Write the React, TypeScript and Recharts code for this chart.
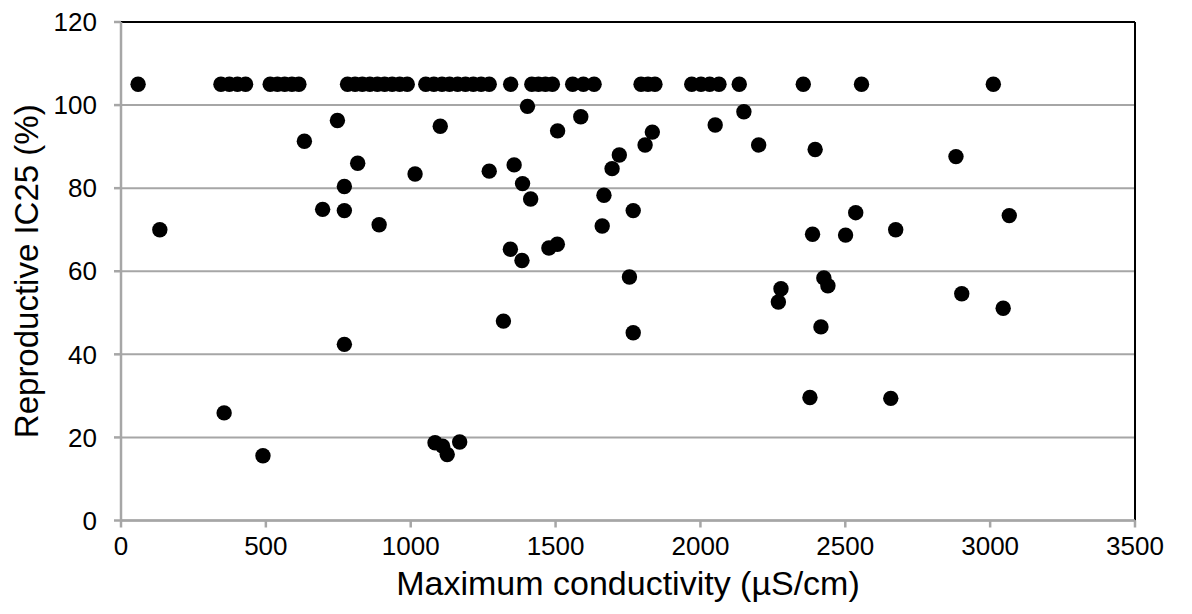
import React from 'react'
import {
  ScatterChart,
  Scatter,
  XAxis,
  YAxis,
  CartesianGrid,
  ReferenceLine,
  Label,
} from 'recharts'

// Maximum conductivity (µS/cm) for each site
const conductivity = [
  // sites with IC25 reported as >100 %
  59, 345, 374, 402, 430, 515, 540, 565, 590, 614, 782, 808, 833, 859, 885, 910, 936, 962,
  988, 1052, 1080, 1108, 1134, 1162, 1189, 1216, 1243, 1271, 1345, 1418, 1441, 1465, 1489,
  1559, 1596, 1633, 1795, 1819, 1843, 1970, 2002, 2032, 2064, 2134, 2355, 2556, 3011,
  // the rest
  747, 633, 817, 771, 696, 771, 134, 891, 771, 356, 490,
  1403, 1102, 1587, 1507, 1015, 1271, 1357, 1386, 1414, 1720, 1695, 1667, 1768, 1661, 1344,
  1384, 1477, 1506, 1755, 1320, 1768,
  1809, 1834, 2051, 2150, 2201, 2396, 2387, 2501, 2536, 2674, 2278, 2269, 2426, 2440, 2416,
  2882, 3066, 2902, 3045,
  1084, 1110, 1126, 1169,
  2378, 2657,
]

// Reproductive IC25 (%)
const ic25 = [
  105, 105, 105, 105, 105, 105, 105, 105, 105, 105, 105, 105, 105, 105, 105, 105, 105, 105,
  105, 105, 105, 105, 105, 105, 105, 105, 105, 105, 105, 105, 105, 105, 105,
  105, 105, 105, 105, 105, 105, 105, 105, 105, 105, 105, 105, 105, 105,
  96.3, 91.3, 86.0, 80.4, 74.9, 74.6, 70.0, 71.2, 42.4, 25.9, 15.6,
  99.7, 94.9, 97.2, 93.8, 83.4, 84.1, 85.6, 81.1, 77.4, 88.0, 84.7, 78.3, 74.6, 70.9, 65.3,
  62.6, 65.6, 66.5, 58.6, 48.0, 45.2,
  90.4, 93.5, 95.2, 98.4, 90.4, 89.3, 68.9, 68.7, 74.1, 70.0, 55.8, 52.6, 58.4, 56.5, 46.6,
  87.6, 73.4, 54.6, 51.1,
  18.7, 17.9, 15.9, 18.9,
  29.6, 29.4,
]

const xTicks = [0, 500, 1000, 1500, 2000, 2500, 3000, 3500]
const yTicks = [0, 20, 40, 60, 80, 100, 120]

const data = conductivity.map((c, i) => ({ c, v: ic25[i] }))

const FONT = '"Liberation Sans", Arial, sans-serif'
const tickStyle = { fontSize: 26, fill: '#000', fontFamily: FONT }
const titleStyle = { fontSize: 34, fill: '#000', fontFamily: FONT }
const yTitleStyle = { fontSize: 33, fill: '#000', fontFamily: FONT }

const Dot = (props: any) => <circle cx={props.cx} cy={props.cy} r={7.7} fill="#000" />

export default function App() {
  return (
    <div style={{ fontFamily: FONT }}>
      <ScatterChart
        width={1184}
        height={606}
        margin={{ top: 14, right: 57, bottom: 0, left: 0 }}
      >
        <CartesianGrid horizontal vertical={false} stroke="#a6a6a6" strokeWidth={2} />
        <XAxis
          type="number"
          dataKey="c"
          domain={[0, 3500]}
          ticks={xTicks}
          height={93.5}
          tickSize={7}
          tickMargin={9}
          tick={tickStyle}
          stroke="#a6a6a6"
          strokeWidth={2.5}
          interval={0}
        >
          <Label
            value="Maximum conductivity (µS/cm)"
            position="insideBottom"
            offset={19}
            style={titleStyle}
          />
        </XAxis>
        <YAxis
          type="number"
          dataKey="v"
          domain={[0, 120]}
          ticks={yTicks}
          width={113}
          tickSize={7}
          tickMargin={17}
          tick={tickStyle}
          stroke="#a6a6a6"
          strokeWidth={2.5}
          interval={0}
        >
          <Label
            content={(p: any) => {
              const vb = p.viewBox || { y: 14, height: 498.5 }
              const cy = vb.y + vb.height / 2
              return (
                <text
                  x={18}
                  y={cy}
                  transform={`rotate(-90, 18, ${cy})`}
                  textAnchor="middle"
                  dominantBaseline="central"
                  style={yTitleStyle}
                >
                  Reproductive IC25 (%)
                </text>
              )
            }}
          />
        </YAxis>
        <ReferenceLine y={120} stroke="#000" strokeWidth={2} />
        <ReferenceLine x={3500} stroke="#000" strokeWidth={2} />
        <Scatter data={data} shape={Dot} isAnimationActive={false} />
      </ScatterChart>
    </div>
  )
}
